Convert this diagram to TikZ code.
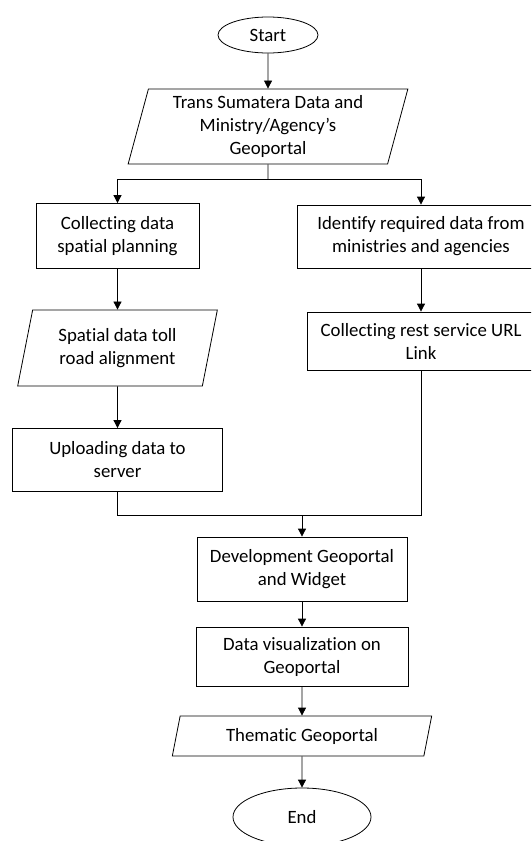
\documentclass[tikz,border=0pt]{standalone}
\usepackage{fontspec}
\setmainfont{Carlito}[Ligatures={TeX,NoCommon}]
\usepackage{tikz}
\usetikzlibrary{arrows.meta,shapes.geometric}

\begin{document}
\begin{tikzpicture}[x=1pt,y=-1pt,
  font=\fontsize{18.8}{23}\selectfont,
  every node/.style={draw,line width=0.8pt,align=center,inner sep=2pt},
  box/.style={rectangle},
  io/.style={trapezium,trapezium stretches=true,trapezium left angle=76,trapezium right angle=104},
  term/.style={ellipse},
  arr/.style={-{Triangle[length=8pt,width=8pt]},line width=0.8pt},
  lin/.style={line width=0.8pt}]
\useasboundingbox (0,0) rectangle (531,841);
\clip (0,0) rectangle (531,841);

\node[term,minimum width=100,minimum height=36] (start) at (268,35) {Start};
\node[io,minimum width=280,minimum height=75] (src) at (268,126.5) {Trans Sumatera Data and\\Ministry/Agency’s\\Geoportal};

% left branch
\node[box,minimum width=163,minimum height=65] (collect) at (117.5,236) {Collecting data\\spatial planning};
\node[io,minimum width=200,minimum height=76] (toll) at (117.5,348) {Spatial data toll\\road alignment};
\node[box,minimum width=210,minimum height=63] (upload) at (117.5,460) {Uploading data to\\server};

% right branch
\node[box,minimum width=248,minimum height=63] (identify) at (421,236.5) {Identify required data from\\ministries and agencies};
\node[box,minimum width=227,minimum height=58] (rest) at (421,341) {Collecting rest service URL\\Link};

% main column
\node[box,minimum width=210,minimum height=64] (dev) at (302,569) {Development Geoportal\\and Widget};
\node[box,minimum width=212,minimum height=59] (vis) at (302,656.5) {Data visualization on\\Geoportal};
\node[io,minimum width=260,minimum height=40] (theme) at (302,736) {Thematic Geoportal};
\node[term,minimum width=138,minimum height=58] (end) at (302,817) {End};

\coordinate (split) at (268,179);
\coordinate (join) at (302,515.5);

\draw[arr] (start) -- (src);
\draw[lin] (src.south) -- (split);
\draw[arr] (split) -| (collect.north);
\draw[arr] (split) -| (identify.north);
\draw[arr] (collect) -- (toll);
\draw[arr] (toll) -- (upload);
\draw[arr] (identify) -- (rest);
\draw[lin] (upload.south) |- (join);
\draw[lin] (rest.south) |- (join);
\draw[arr] (join) -- (dev.north);
\draw[arr] (dev) -- (vis);
\draw[arr] (vis) -- (theme);
\draw[arr] (theme) -- (end);

\end{tikzpicture}
\end{document}
